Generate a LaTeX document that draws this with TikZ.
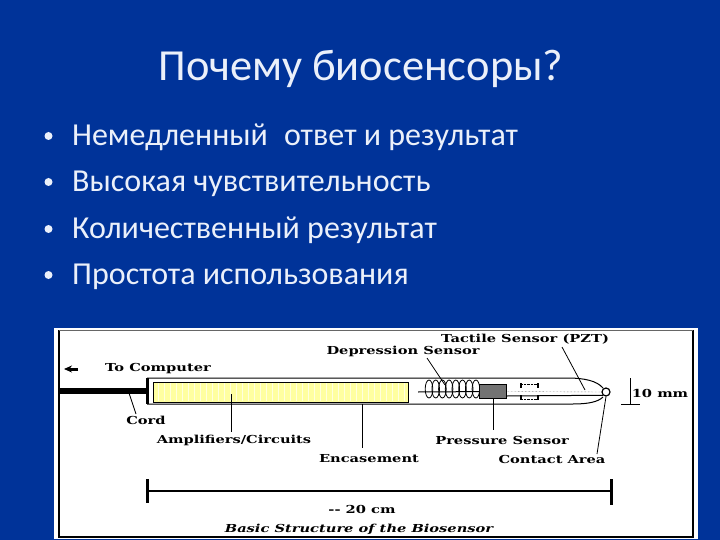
\documentclass[tikz,border=0pt]{standalone}
\usepackage{fontspec}
\setmainfont{Carlito}
\newfontfamily\figfont[FakeStretch=1.33]{DejaVu Serif}
\usetikzlibrary{arrows.meta, positioning, calc}
\definecolor{slideblue}{RGB}{0,51,153}
\definecolor{slidetext}{RGB}{235,240,250}
\definecolor{padyellow}{RGB}{255,255,160}

\begin{document}
\begin{tikzpicture}[
    x=1pt, y=-1pt,
    % Styles
    title_text/.style={
      font=\fontsize{44.4}{45}\selectfont, text=slidetext, inner sep=0pt
    },
    item_text/.style={
      font=\fontsize{32}{33}\selectfont, text=slidetext, inner sep=0pt, anchor=base west
    },
    dot/.style={
      circle, fill=slidetext, inner sep=0pt, minimum size=8pt
    },
    fig_label/.style={
      font=\figfont\bfseries\fontsize{11}{12}\selectfont, inner sep=0pt, text=black
    },
    leader/.style={
      draw=black, line width=0.8pt
    },
    heavy/.style={
      draw=black, line width=3pt
    },
    block/.style={
      rectangle, draw=black, inner sep=0pt
    }
  ]

  % --- 1. SLIDE ---
  \fill[slideblue] (0,0) rectangle (720,540);
  \node[title_text] (title) at (361,69) {Почему биосенсоры?};

  \node[item_text] (item1) at (72,146) {Немедленный\; ответ и результат};
  \node[item_text] (item2) at (72,192) {Высокая чувствительность};
  \node[item_text] (item3) at (72,238) {Количественный результат};
  \node[item_text] (item4) at (72,284) {Простота использования};

  % bullets
  \foreach \n/\ypos in {1/136, 2/182, 3/229, 4/275}
    \node[dot] (dot\n) at (48.5,\ypos) {};

  % --- 2. FIGURE PANEL ---
  \node[rectangle, fill=white, minimum width=644pt, minimum height=211pt, inner sep=0pt] (panel) at (376,433.5) {};
  \coordinate (frame_tl) at (59,330);
  \coordinate (frame_bl) at (59,537);
  \coordinate (frame_br) at (693,537);
  \coordinate (frame_tr) at (693,330);
  \draw[line width=2pt] (frame_tl) -- (frame_bl) -- (frame_br) -- (frame_tr);
  \draw[black!60, line width=0.5pt] (frame_tl) -- (frame_tr);

  % Cord and tube
  \coordinate (cap_top) at (147,378);
  \coordinate (cap_bot) at (147,404);
  \coordinate (cord_start) at (60,391);
  \coordinate (cord_end) at (147,391);
  \draw[line width=6pt] (cord_start) -- (cord_end);
  \draw[heavy] (cap_top) -- (cap_bot);
  \draw[line width=1pt] (cap_top) -- (567,378) .. controls (585,378) and (597,381) .. (603,388);
  \draw[line width=1pt] (cap_bot) -- (573,404) .. controls (588,404) and (598,402) .. (603,397);

  % Amplifier block
  \node[block, fill=padyellow, minimum width=255pt, minimum height=20pt] (amp) at (280.5,392) {};
  \foreach \i in {158,164,...,404}
    \draw[padyellow!35!white, line width=0.7pt] (\i,383) -- (\i,401);

  % Spring
  \coordinate (axis_start) at (418,392);
  \foreach \i in {429,435.7,...,476}
    \draw[line width=0.8pt] (\i,389) ellipse (3.8 and 9);

  % Pressure sensor and tip
  \node[block, fill=black!55, line width=1pt, minimum width=27pt, minimum height=14pt] (pressure) at (493,391.5) {};
  \node[circle, draw=black, fill=white, line width=1.2pt, minimum size=8pt, inner sep=0pt] (tip) at (606,392) {};
  \draw[line width=1pt] (axis_start) -- (pressure);
  \draw[densely dotted, black!70] (pressure.east) -- (tip.west);
  \draw[line width=1pt] ($(pressure.south east)+(0,-3)$) -- (tip.south west);

  % Inner ticks
  \foreach \xpos in {521,538} {
    \draw[line width=1.1pt] (\xpos,383) -- (\xpos,388);
    \draw[line width=1.1pt] (\xpos,395) -- (\xpos,400);
  }
  \draw[densely dotted] (521,384) -- (538,384);
  \draw[densely dotted] (521,399) -- (538,399);

  % --- 3. LABELS ---
  \node[fig_label] (computer) at (158,369) {To Computer};
  \node[fig_label] (cord) at (146,420) {Cord};
  \node[fig_label] (circuits) at (234,440) {Amplifiers/Circuits};
  \node[fig_label] (encasement) at (369,459) {Encasement};
  \node[fig_label] (depression) at (403,351) {Depression Sensor};
  \node[fig_label] (tactile) at (525,339) {Tactile Sensor (PZT)};
  \node[fig_label] (pressure_label) at (502,440) {Pressure Sensor};
  \node[fig_label] (contact) at (552,459) {Contact Area};
  \node[fig_label] (size) at (660,393) {10 mm};
  \node[fig_label] (length) at (362,509) {-- 20 cm};
  \node[fig_label, font=\figfont\bfseries\itshape\fontsize{11}{12}\selectfont] (caption) at (359,529) {Basic Structure of the Biosensor};

  % --- 4. EDGES ---
  \coordinate (arrow_tail) at (78,369);
  \coordinate (arrow_head) at (64,369);
  \draw[line width=3pt, -{Stealth[length=8pt,width=7pt]}] (arrow_tail) -- (arrow_head);

  \coordinate (cord_point) at (129,393);
  \coordinate (amp_point) at (231,394);
  \coordinate (case_point) at (362,404);
  \coordinate (spring_point) at (445,385);
  \coordinate (tube_point) at (585,390);

  \draw[leader] (cord_point) -- (136,414);
  \draw[leader] (amp_point) -- (231,432);
  \draw[leader] (case_point) -- (362,448);
  \draw[leader] (427,358) -- (spring_point);
  \draw[leader] (562,347) -- (tube_point);
  \draw[leader] (pressure.south) -- (493,430);
  \draw[leader] (tip.south) -- (597,454);

  % 10 mm mark
  \coordinate (mm_top) at (630,378);
  \coordinate (mm_bot) at (630,404);
  \draw[leader] (mm_top) -- (mm_bot);
  \draw[leader] (621,404) -- (640,404);

  % 20 cm mark
  \coordinate (dim_left) at (147,491);
  \coordinate (dim_right) at (611,491);
  \draw[line width=1.6pt] (dim_left) -- (dim_right);
  \draw[heavy] (147,479) -- (147,503);
  \draw[heavy] (611,479) -- (611,505);

  \useasboundingbox (0,0) rectangle (720,540);
\end{tikzpicture}
\end{document}
